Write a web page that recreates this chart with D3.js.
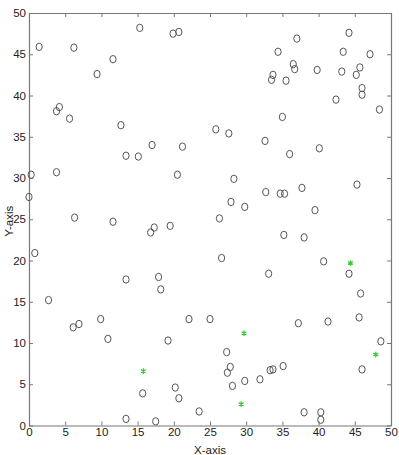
<!DOCTYPE html>
<html>
<head>
<meta charset="utf-8">
<script src="https://cdn.jsdelivr.net/npm/d3@7"></script>
<style>
  body { margin: 0; background: #fff; }
  svg text { font-family: "Liberation Sans Narrow", "Liberation Sans", Arial, sans-serif; fill: #222; }
</style>
</head>
<body>
<svg id="chart"></svg>
<script>
var width = 399, height = 455;
var margin = {l: 29, t: 13, r: 8, b: 29.5};

// open circles (x values / y values)
var circleX = [1.4, 6.2, 9.4, 11.6, 15.3, 3.8, 4.2, 5.6, 12.7,
  19.9, 20.7, 25.8, 27.6, 32.6, 17.0, 21.2, 33.5,
  37.0, 44.2, 34.4, 43.4, 47.1, 36.5, 36.7, 39.8, 43.2, 45.7, 45.2, 33.7, 35.5, 46.0, 46.0, 42.4, 48.4, 35.0, 40.1,
  0.3, 3.8, 0.0, 6.3, 11.6, 0.8, 13.4, 15.1, 13.4,
  20.5, 28.3, 32.7, 27.9, 29.8, 26.3, 17.3, 16.8, 19.5, 26.6, 17.9, 18.2, 33.1,
  36.0, 34.7, 35.3, 37.7, 45.3, 39.5, 35.2, 38.0, 40.7, 44.2, 45.8,
  2.7, 6.1, 6.9, 9.9, 10.9, 13.4,
  22.1, 25.0, 19.2, 27.3, 27.8, 27.4, 28.1, 29.8, 31.9, 33.3, 33.7, 20.2, 20.7, 15.7, 23.5, 17.5,
  35.1, 37.2, 41.3, 45.6, 48.6, 46.0, 38.0, 40.3, 40.3];
var circleY = [45.9, 45.8, 42.6, 44.4, 48.2, 38.1, 38.6, 37.2, 36.4,
  47.5, 47.7, 35.9, 35.4, 34.5, 34.0, 33.8, 41.9,
  46.9, 47.6, 45.3, 45.3, 45.0, 43.8, 43.2, 43.1, 42.9, 43.4, 42.5, 42.5, 41.8, 40.9, 40.1, 39.5, 38.3, 37.4, 33.6,
  30.4, 30.7, 27.7, 25.2, 24.7, 20.9, 32.7, 32.6, 17.7,
  30.4, 29.9, 28.3, 27.1, 26.5, 25.1, 24.0, 23.4, 24.2, 20.3, 18.0, 16.5, 18.4,
  32.9, 28.1, 28.1, 28.8, 29.2, 26.1, 23.1, 22.8, 19.9, 18.4, 16.0,
  15.2, 11.9, 12.3, 12.9, 10.5, 0.8,
  12.9, 12.9, 10.3, 8.9, 7.1, 6.4, 4.8, 5.4, 5.6, 6.7, 6.8, 4.6, 3.3, 3.9, 1.7, 0.5,
  7.2, 12.4, 12.6, 13.1, 10.2, 6.8, 1.6, 1.6, 0.7];

// green stars
var starX = [44.4, 29.7, 15.8, 29.3, 47.9];
var starY = [19.7, 11.2, 6.6, 2.6, 8.6];

var xTicks = [0, 5, 10, 15, 20, 25, 30, 35, 40, 45, 50];
var yTicks = [0, 5, 10, 15, 20, 25, 30, 35, 40, 45, 50];

var svg = d3.select("#chart").attr("width", width).attr("height", height);
var w = width - margin.l - margin.r, h = height - margin.t - margin.b;

var x = d3.scaleLinear().domain([0, 50]).range([margin.l, margin.l + w]);
var y = d3.scaleLinear().domain([0, 50]).range([margin.t + h, margin.t]);

function styleAxis(g) {
  g.select(".domain").attr("stroke", "#777").attr("stroke-width", 1.2);
  g.selectAll(".tick line").attr("stroke", "#777");
  g.selectAll(".tick text").style("font-size", "11.5px").attr("fill", "#222");
}

svg.append("g").attr("transform", "translate(0," + (margin.t + h) + ")")
  .call(d3.axisBottom(x).tickValues(xTicks).tickSizeInner(-4).tickSizeOuter(0).tickPadding(2))
  .call(styleAxis);
svg.append("g").attr("transform", "translate(0," + margin.t + ")")
  .call(d3.axisTop(x).tickValues(xTicks).tickSizeInner(-4).tickSizeOuter(0).tickFormat(""))
  .call(styleAxis);
svg.append("g").attr("transform", "translate(" + margin.l + ",0)")
  .call(d3.axisLeft(y).tickValues(yTicks).tickSizeInner(-4).tickSizeOuter(0).tickPadding(3))
  .call(styleAxis);
svg.append("g").attr("transform", "translate(" + (margin.l + w) + ",0)")
  .call(d3.axisRight(y).tickValues(yTicks).tickSizeInner(-4).tickSizeOuter(0).tickFormat(""))
  .call(styleAxis);

svg.append("text")
  .attr("x", margin.l + w / 2).attr("y", 454)
  .attr("text-anchor", "middle").style("font-size", "11.5px")
  .text("X-axis");
svg.append("text")
  .attr("transform", "translate(13," + (margin.t + h / 2 + 2) + ") rotate(-90)")
  .attr("text-anchor", "middle").style("font-size", "11.5px")
  .text("Y-axis");

svg.append("g").selectAll("ellipse")
  .data(circleX)
  .enter().append("ellipse")
  .attr("cx", function(d){ return x(d); })
  .attr("cy", function(d, i){ return y(circleY[i]); })
  .attr("rx", 3.1).attr("ry", 3.7)
  .attr("fill", "none").attr("stroke", "#555").attr("stroke-width", 1);

var starSym = d3.symbol().type(d3.symbolAsterisk || d3.symbolCross).size(22);
svg.append("g").selectAll("path")
  .data(starX)
  .enter().append("path")
  .attr("transform", function(d, i){ return "translate(" + x(d) + "," + y(starY[i]) + ")"; })
  .attr("d", starSym)
  .attr("fill", "none").attr("stroke", "#33cc33").attr("stroke-width", 1.2);
</script>
</body>
</html>
